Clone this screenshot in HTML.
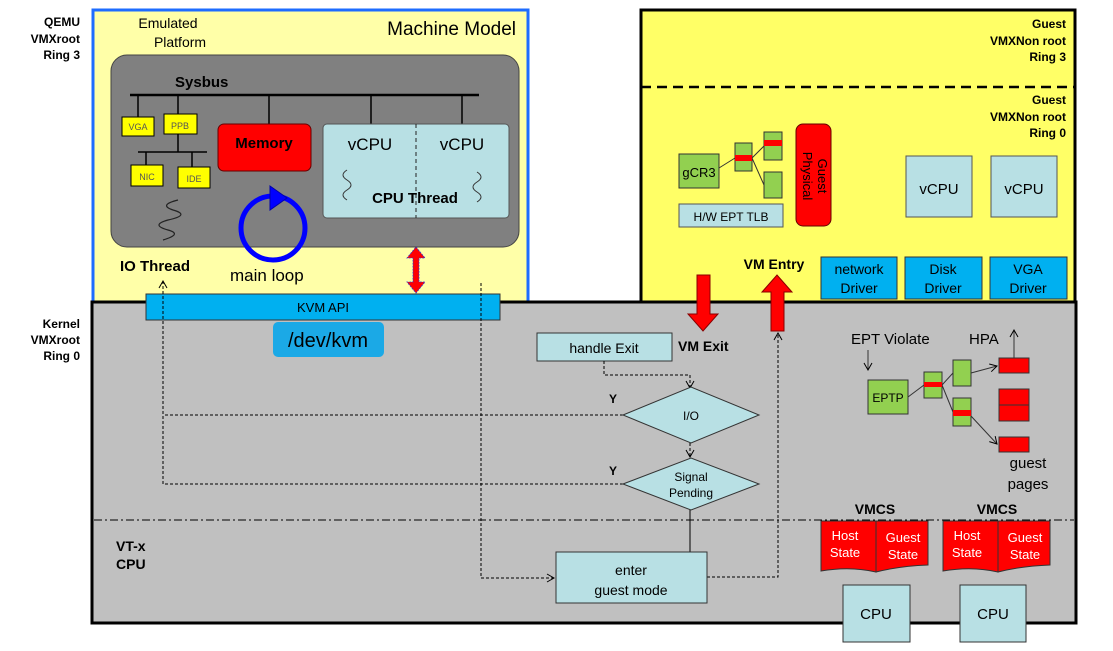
<!DOCTYPE html>
<html><head><meta charset="utf-8"><style>
html,body{margin:0;padding:0;background:#fff}
svg{display:block;font-family:"Liberation Sans",sans-serif}
.b{font-weight:bold}
</style></head><body>
<svg width="1113" height="651" viewBox="0 0 1113 651" xmlns="http://www.w3.org/2000/svg">
<defs>
<marker id="ar" markerWidth="10" markerHeight="10" refX="8" refY="5" orient="auto" markerUnits="userSpaceOnUse">
<path d="M1,1 L8,5 L1,9" fill="none" stroke="#000" stroke-width="1"/></marker>
</defs>
<!-- left labels -->
<g class="b" font-size="12" text-anchor="end" fill="#000">
<text x="80" y="26">QEMU</text><text x="80" y="43">VMXroot</text><text x="80" y="59">Ring 3</text>
<text x="80" y="328">Kernel</text><text x="80" y="344">VMXroot</text><text x="80" y="360">Ring 0</text>
</g>
<!-- Machine model -->
<rect x="93" y="10" width="435" height="292" fill="#ffffa8" stroke="#1e6cff" stroke-width="3"/>
<text x="168" y="28" font-size="14" text-anchor="middle">Emulated</text>
<text x="180" y="47" font-size="14" text-anchor="middle">Platform</text>
<text x="516" y="35" font-size="19" text-anchor="end">Machine Model</text>
<rect x="111" y="55" width="408" height="192" rx="16" fill="#808080" stroke="#444" stroke-width="1"/>
<text x="175" y="87" class="b" font-size="15">Sysbus</text>
<g stroke="#000" stroke-width="1.5">
<line x1="130" y1="95" x2="479" y2="95" stroke-width="2.5"/>
<line x1="138" y1="95" x2="138" y2="117"/><line x1="178" y1="95" x2="178" y2="114"/>
<line x1="269" y1="95" x2="269" y2="124"/><line x1="371" y1="95" x2="371" y2="124"/><line x1="462" y1="95" x2="462" y2="124"/>
<line x1="178" y1="134" x2="178" y2="152"/><line x1="138" y1="152" x2="207" y2="152"/>
<line x1="146" y1="152" x2="146" y2="165"/><line x1="192" y1="152" x2="192" y2="167"/>
</g>
<g fill="#ffff00" stroke="#000"><rect x="122" y="117" width="32" height="19"/><rect x="164" y="114" width="33" height="20"/>
<rect x="131" y="165" width="32" height="21"/><rect x="178" y="167" width="32" height="21"/></g>
<g font-size="9" fill="#555" text-anchor="middle"><text x="138" y="130">VGA</text><text x="180" y="129">PPB</text><text x="147" y="180">NIC</text><text x="194" y="182">IDE</text></g>
<path d="M178,200 q-20,5 -5,10 q18,5 -5,10 q-18,5 0,10 q15,4 -5,10" fill="none" stroke="#222" stroke-width="1.2"/>
<rect x="218" y="124" width="93" height="47" rx="6" fill="#ff0000" stroke="#600"/>
<text x="264" y="148" class="b" font-size="15" text-anchor="middle">Memory</text>
<rect x="323" y="124" width="186" height="94" rx="4" fill="#b8e0e4" stroke="#555"/>
<line x1="416" y1="124" x2="416" y2="218" stroke="#222" stroke-dasharray="4,3"/>
<text x="370" y="150" font-size="17" text-anchor="middle">vCPU</text><text x="462" y="150" font-size="17" text-anchor="middle">vCPU</text>
<text x="415" y="203" class="b" font-size="15" text-anchor="middle">CPU Thread</text>
<path d="M347,170 q-8,5 0,10 q8,5 0,10 q-8,5 0,10" fill="none" stroke="#333"/>
<path d="M477,172 q8,5 0,10 q-8,5 0,10 q8,5 0,10" fill="none" stroke="#333"/>
<circle cx="273" cy="228" r="32" fill="none" stroke="#0000ff" stroke-width="5"/>
<path d="M270,186 L287,198 L270,210 Z" fill="#0000ff" stroke="#0000aa"/>
<text x="120" y="271" class="b" font-size="15">IO Thread</text>
<text x="230" y="281" font-size="17">main loop</text>
<!-- guest -->
<rect x="641" y="10" width="434" height="292" fill="#ffff66" stroke="#000" stroke-width="3"/>
<line x1="641" y1="87" x2="1075" y2="87" stroke="#000" stroke-width="2.5" stroke-dasharray="10,6"/>
<g class="b" font-size="12" text-anchor="end"><text x="1066" y="28">Guest</text><text x="1066" y="45">VMXNon root</text><text x="1066" y="61">Ring 3</text>
<text x="1066" y="104">Guest</text><text x="1066" y="121">VMXNon root</text><text x="1066" y="137">Ring 0</text></g>
<g stroke="#333" fill="none"><line x1="719" y1="168" x2="735" y2="158"/><line x1="752" y1="158" x2="764" y2="146"/><line x1="752" y1="158" x2="764" y2="185"/></g>
<g fill="#92d050" stroke="#333"><rect x="679" y="154" width="40" height="34"/><rect x="735" y="143" width="17" height="28"/><rect x="764" y="132" width="18" height="28"/><rect x="764" y="172" width="18" height="26"/></g>
<rect x="735" y="155" width="17" height="6" fill="#f00"/><rect x="764" y="140" width="18" height="6" fill="#f00"/>
<text x="699" y="177" font-size="13" text-anchor="middle">gCR3</text>
<rect x="679" y="204" width="104" height="23" fill="#b8e0e4" stroke="#555"/>
<text x="731" y="221" font-size="12" text-anchor="middle">H/W EPT TLB</text>
<rect x="796" y="124" width="35" height="102" rx="7" fill="#f00" stroke="#600"/>
<text transform="translate(818,176) rotate(90)" font-size="13" text-anchor="middle">Guest</text>
<text transform="translate(803,176) rotate(90)" font-size="13" text-anchor="middle">Physical</text>
<g fill="#b8e0e4" stroke="#555"><rect x="906" y="156" width="66" height="61"/><rect x="991" y="156" width="66" height="61"/></g>
<text x="939" y="194" font-size="15" text-anchor="middle">vCPU</text><text x="1024" y="194" font-size="15" text-anchor="middle">vCPU</text>
<text x="774" y="269" class="b" font-size="14" text-anchor="middle">VM Entry</text>
<g fill="#00b0f0" stroke="#333"><rect x="821" y="257" width="76" height="42"/><rect x="905" y="257" width="77" height="42"/><rect x="990" y="257" width="77" height="42"/></g>
<g font-size="14" text-anchor="middle"><text x="859" y="274">network</text><text x="859" y="293">Driver</text>
<text x="943" y="274">Disk</text><text x="943" y="293">Driver</text><text x="1028" y="274">VGA</text><text x="1028" y="293">Driver</text></g>
<!-- kernel -->
<rect x="92" y="302" width="984" height="321" fill="#c0c0c0" stroke="#000" stroke-width="3"/>
<line x1="94" y1="520" x2="1074" y2="520" stroke="#000" stroke-dasharray="8,3,2,3"/>
<rect x="146" y="294" width="354" height="26" fill="#00b0f0" stroke="#333"/>
<text x="323" y="312" font-size="13" text-anchor="middle">KVM API</text>
<rect x="273" y="322" width="111" height="35" rx="5" fill="#1ba9e6"/>
<text x="328" y="347" font-size="20" text-anchor="middle">/dev/kvm</text>
<!-- red double arrow -->
<path d="M416,247 L425,258 L419,258 L419,282 L425,282 L416,293 L407,282 L413,282 L413,258 L407,258 Z" fill="#f00" stroke="#33c" stroke-width="0.8" stroke-dasharray="2,1"/>
<!-- VM exit / entry arrows -->
<path d="M697,275 L710,275 L710,314 L718,314 L703,331 L688,314 L697,314 Z" fill="#f00" stroke="#800"/>
<path d="M771,331 L784,331 L784,292 L792,292 L777,275 L762,292 L771,292 Z" fill="#f00" stroke="#800"/>
<rect x="537" y="333" width="135" height="28" fill="#b8e0e4" stroke="#333"/>
<text x="604" y="353" font-size="14" text-anchor="middle">handle Exit</text>
<text x="678" y="351" class="b" font-size="14">VM Exit</text>
<g fill="none" stroke="#000" stroke-dasharray="3,2" stroke-width="1">
<polyline points="604,361 604,375 690,375 690,388" marker-end="url(#ar)"/>
<line x1="690" y1="443" x2="690" y2="457" marker-end="url(#ar)"/>
<polyline points="623,415 163,415"/>
<polyline points="623,484 163,484 163,281" marker-end="url(#ar)"/>
<polyline points="481,283 481,578 554,578" marker-end="url(#ar)"/>
<line x1="690" y1="510" x2="690" y2="552" stroke-dasharray="none"/>
<polyline points="707,577 778,577 778,333" marker-end="url(#ar)"/>
</g>
<path d="M623,415 L691,387 L759,415 L691,443 Z" fill="#b8e0e4" stroke="#333"/>
<text x="691" y="420" font-size="12" text-anchor="middle">I/O</text>
<path d="M623,484 L691,458 L759,484 L691,510 Z" fill="#b8e0e4" stroke="#333"/>
<text x="691" y="481" font-size="12" text-anchor="middle">Signal</text><text x="691" y="497" font-size="12" text-anchor="middle">Pending</text>
<text x="609" y="403" class="b" font-size="12">Y</text><text x="609" y="475" class="b" font-size="12">Y</text>
<rect x="556" y="552" width="151" height="51" fill="#b8e0e4" stroke="#333"/>
<text x="631" y="575" font-size="14" text-anchor="middle">enter</text><text x="631" y="595" font-size="14" text-anchor="middle">guest mode</text>
<text x="116" y="551" class="b" font-size="14">VT-x</text><text x="116" y="569" class="b" font-size="14">CPU</text>
<!-- EPT -->
<text x="851" y="344" font-size="15">EPT Violate</text>
<text x="969" y="344" font-size="15">HPA</text>
<g stroke="#333" fill="none"><line x1="868" y1="350" x2="868" y2="370" marker-end="url(#ar)"/>
<line x1="1014" y1="358" x2="1014" y2="330" marker-end="url(#ar)"/>
<line x1="908" y1="397" x2="924" y2="385"/><line x1="942" y1="385" x2="953" y2="373"/><line x1="942" y1="385" x2="953" y2="412"/>
<line x1="971" y1="373" x2="997" y2="366" marker-end="url(#ar)"/><line x1="971" y1="416" x2="997" y2="444" marker-end="url(#ar)"/></g>
<g fill="#92d050" stroke="#333"><rect x="868" y="380" width="40" height="34"/><rect x="924" y="372" width="18" height="26"/><rect x="953" y="360" width="18" height="26"/><rect x="953" y="398" width="18" height="28"/></g>
<rect x="924" y="382" width="18" height="5" fill="#f00"/><rect x="953" y="410" width="18" height="6" fill="#f00"/>
<text x="888" y="402" font-size="12" text-anchor="middle">EPTP</text>
<g fill="#f00" stroke="#333"><rect x="999" y="358" width="30" height="15"/><rect x="999" y="389" width="30" height="16"/><rect x="999" y="405" width="30" height="16"/><rect x="999" y="437" width="30" height="15"/></g>
<text x="1028" y="468" font-size="15" text-anchor="middle">guest</text><text x="1028" y="489" font-size="15" text-anchor="middle">pages</text>
<!-- VMCS -->
<text x="875" y="514" class="b" font-size="14" text-anchor="middle">VMCS</text><text x="997" y="514" class="b" font-size="14" text-anchor="middle">VMCS</text>
<g fill="#f00" stroke="#333">
<path d="M821,521 L876,521 L876,572 Q850,566 821,571 Z"/><path d="M876,521 L928,521 L928,565 Q900,566 876,572 Z"/>
<path d="M943,521 L998,521 L998,572 Q972,566 943,571 Z"/><path d="M998,521 L1050,521 L1050,565 Q1022,566 998,572 Z"/>
</g>
<g fill="#fff" font-size="13" text-anchor="middle">
<text x="845" y="540">Host</text><text x="845" y="557">State</text><text x="903" y="542">Guest</text><text x="903" y="559">State</text>
<text x="967" y="540">Host</text><text x="967" y="557">State</text><text x="1025" y="542">Guest</text><text x="1025" y="559">State</text></g>
<g fill="#b8e0e4" stroke="#333"><rect x="843" y="585" width="67" height="57"/><rect x="960" y="585" width="66" height="57"/></g>
<text x="876" y="619" font-size="15" text-anchor="middle">CPU</text><text x="993" y="619" font-size="15" text-anchor="middle">CPU</text>
</svg>
</body></html>
